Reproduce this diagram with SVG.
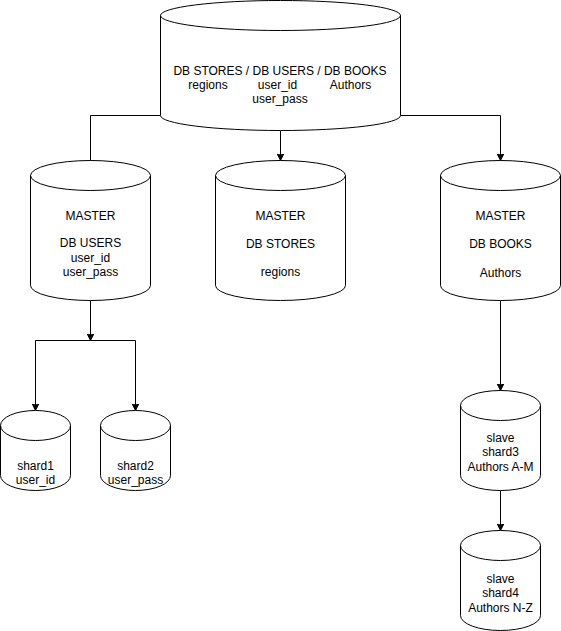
<svg xmlns="http://www.w3.org/2000/svg" width="561" height="631" viewBox="0 0 561 631">
<style>
.cyl{fill:#ffffff;stroke:#000000;stroke-width:1}
.cf{fill:none;stroke:#000000;stroke-width:1}
.edge{fill:none;stroke:#000000;stroke-width:1}
text{font-family:"Liberation Sans",Arial,Helvetica,sans-serif;font-size:12px;fill:#000000;text-anchor:middle}
</style>
<defs>
<marker id="arr" markerUnits="userSpaceOnUse" markerWidth="8" markerHeight="8" refX="7" refY="3.5" orient="auto">
<path d="M7,3.5 L0,0 L1.75,3.5 L0,7 Z" fill="#000000" stroke="#000000" stroke-width="1" stroke-linejoin="miter"/>
</marker>
</defs>
<rect width="561" height="631" fill="#ffffff"/>

<g id="connectors">
<path class="edge" d="M160.5,115.5 H90.5 V160.5"/>
<path class="edge" d="M280.5,130.5 V160.5" marker-end="url(#arr)"/>
<path class="edge" d="M400.5,115.5 H500.5 V160.5" marker-end="url(#arr)"/>
<path class="edge" d="M90.5,300.5 V340.5" marker-end="url(#arr)"/>
<path class="edge" d="M35.5,340.5 H135.5"/>
<path class="edge" d="M35.5,340.5 V410.5" marker-end="url(#arr)"/>
<path class="edge" d="M135.5,340.5 V410.5" marker-end="url(#arr)"/>
<path class="edge" d="M500.5,300.5 V390.5" marker-end="url(#arr)"/>
<path class="edge" d="M500.5,490.5 V530.5" marker-end="url(#arr)"/>
</g>

<g id="db-all">
<path class="cyl" d="M160.5,15.5 A120,15 0 0 1 400.5,15.5 L400.5,115.5 A120,15 0 0 1 160.5,115.5 Z"/>
<path class="cf" d="M160.5,15.5 A120,15 0 0 0 400.5,15.5"/>
<text x="280" y="75">DB STORES / DB USERS / DB BOOKS</text>
<text x="208" y="89">regions</text>
<text x="277.5" y="89">user_id</text>
<text x="350.5" y="89">Authors</text>
<text x="280" y="103">user_pass</text>
</g>

<g id="master-users">
<path class="cyl" d="M30.5,175.5 A60,15 0 0 1 150.5,175.5 L150.5,285.5 A60,15 0 0 1 30.5,285.5 Z"/>
<path class="cf" d="M30.5,175.5 A60,15 0 0 0 150.5,175.5"/>
<text x="90.5" y="219.5">MASTER</text>
<text x="90.5" y="247">DB USERS</text>
<text x="90.5" y="261.5">user_id</text>
<text x="90.5" y="275.5">user_pass</text>
</g>

<g id="master-stores">
<path class="cyl" d="M215.5,175.5 A65,15 0 0 1 345.5,175.5 L345.5,285.5 A65,15 0 0 1 215.5,285.5 Z"/>
<path class="cf" d="M215.5,175.5 A65,15 0 0 0 345.5,175.5"/>
<text x="280.5" y="219.5">MASTER</text>
<text x="280.5" y="247.5">DB STORES</text>
<text x="280.5" y="276">regions</text>
</g>

<g id="master-books">
<path class="cyl" d="M440.5,175.5 A60,15 0 0 1 560.5,175.5 L560.5,285.5 A60,15 0 0 1 440.5,285.5 Z"/>
<path class="cf" d="M440.5,175.5 A60,15 0 0 0 560.5,175.5"/>
<text x="500.5" y="219.5">MASTER</text>
<text x="500.5" y="248">DB BOOKS</text>
<text x="500.5" y="276.5">Authors</text>
</g>

<g id="shard1">
<path class="cyl" d="M0.5,425.5 A35,15 0 0 1 70.5,425.5 L70.5,475.5 A35,15 0 0 1 0.5,475.5 Z"/>
<path class="cf" d="M0.5,425.5 A35,15 0 0 0 70.5,425.5"/>
<text x="35.5" y="470">shard1</text>
<text x="35.5" y="484">user_id</text>
</g>

<g id="shard2">
<path class="cyl" d="M100.5,425.5 A35,15 0 0 1 170.5,425.5 L170.5,475.5 A35,15 0 0 1 100.5,475.5 Z"/>
<path class="cf" d="M100.5,425.5 A35,15 0 0 0 170.5,425.5"/>
<text x="135.5" y="470">shard2</text>
<text x="135.5" y="484">user_pass</text>
</g>

<g id="shard3">
<path class="cyl" d="M460.5,405.5 A40,15 0 0 1 540.5,405.5 L540.5,475.5 A40,15 0 0 1 460.5,475.5 Z"/>
<path class="cf" d="M460.5,405.5 A40,15 0 0 0 540.5,405.5"/>
<text x="500.5" y="441.5">slave</text>
<text x="500.5" y="456">shard3</text>
<text x="500.5" y="470.5">Authors A-M</text>
</g>

<g id="shard4">
<path class="cyl" d="M460.5,545.5 A40,15 0 0 1 540.5,545.5 L540.5,615.5 A40,15 0 0 1 460.5,615.5 Z"/>
<path class="cf" d="M460.5,545.5 A40,15 0 0 0 540.5,545.5"/>
<text x="500.5" y="582.5">slave</text>
<text x="500.5" y="597">shard4</text>
<text x="500.5" y="611.5">Authors N-Z</text>
</g>
</svg>
